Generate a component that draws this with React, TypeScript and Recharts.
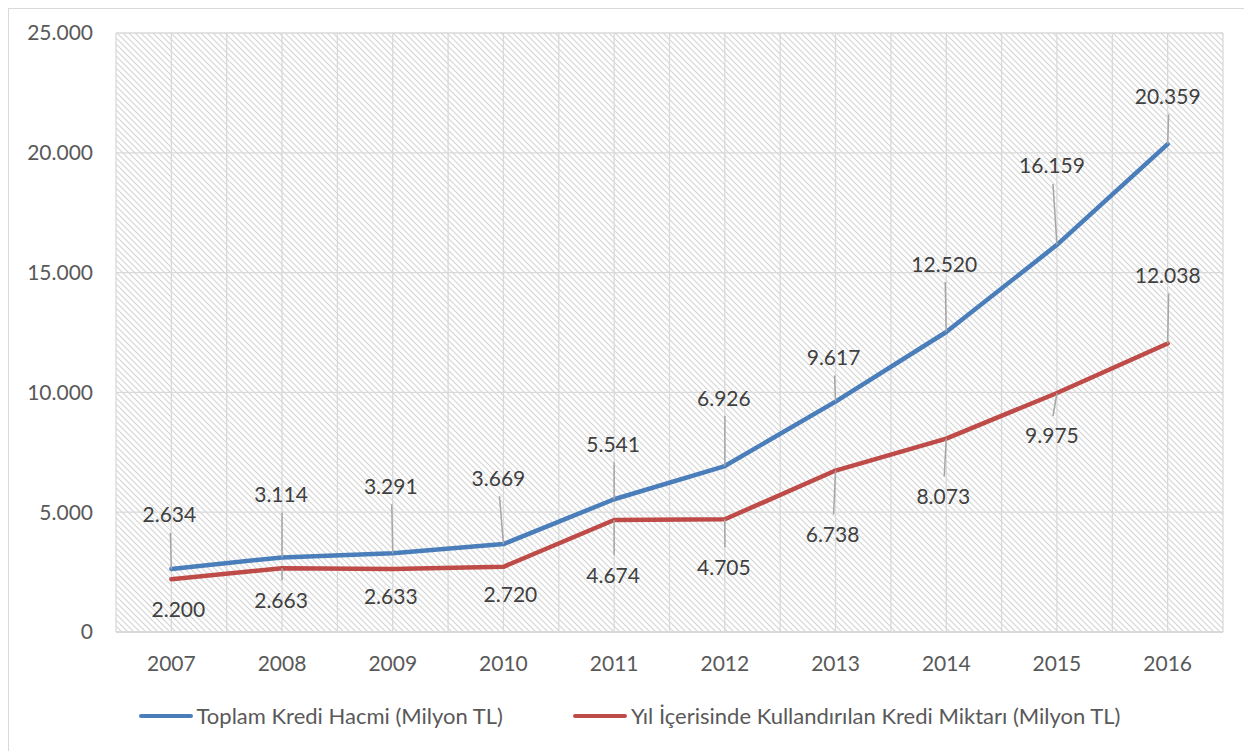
import React from 'react';
import { LineChart, Line, XAxis, YAxis, CartesianGrid, Legend, LabelList } from 'recharts';

const years = ['2007', '2008', '2009', '2010', '2011', '2012', '2013', '2014', '2015', '2016'];
const toplamKredi = [2634, 3114, 3291, 3669, 5541, 6926, 9617, 12520, 16159, 20359];
const kullandirilanKredi = [2200, 2663, 2633, 2720, 4674, 4705, 6738, 8073, 9975, 12038];
const yTicks = [0, 5000, 10000, 15000, 20000, 25000];

const TOPLAM_NAME = 'Toplam Kredi Hacmi (Milyon TL)';
const KULLANDIRILAN_NAME = 'Yıl İçerisinde Kullandırılan Kredi Miktarı (Milyon TL)';

// where each data label sits relative to its point (dx, dy)
const blueLabelOffset = [
  [-2, -54], [-1, -63], [-2, -67], [-5, -66], [-1, -55],
  [-1, -68], [-2, -44], [-2, -68], [-5, -79], [0, -48],
];
const redLabelOffset = [
  [7, 30], [-1, 32], [-2, 28], [7, 28], [-1, 55],
  [-1, 48], [-3, 64], [-3, 58], [-5, 43], [0, -68],
];

const BLUE = '#4a7ebb';
const RED = '#be4b48';
const TEXT = '#595959';
const GRID = '#d9d9d9';
const FONT = 'Lato, "Open Sans", sans-serif';
const FONT_SIZE = 21;

const data = years.map((year, i) => ({
  year,
  toplam: toplamKredi[i],
  kullandirilan: kullandirilanKredi[i],
}));

const fmt = (v: number) => String(v).replace(/\B(?=(\d{3})+(?!\d))/g, '.');

const makeLabel = (offsets: number[][]) => (props: any) => {
  const { x, y, index, value } = props;
  const [dx, dy] = offsets[index];
  const lx = x + dx;
  const ly = y + dy;
  const above = dy < 0;
  const edge = above ? ly + 18 : ly - 20;
  const showLeader = Math.abs(dy) - 19 >= 12;
  return (
    <g>
      {showLeader && (
        <line x1={x} y1={y} x2={lx + 1} y2={edge} stroke="#a6a6a6" strokeWidth={1.5} />
      )}
      <text
        x={lx}
        y={ly + 7.5}
        textAnchor="middle"
        fill="#404040"
        fontFamily={FONT}
        fontSize={FONT_SIZE}
      >
        {fmt(value)}
      </text>
    </g>
  );
};

const renderLegend = () => (
  <div
    style={{
      display: 'flex',
      justifyContent: 'center',
      gap: 70,
      fontFamily: FONT,
      fontSize: 22,
      color: TEXT,
      lineHeight: '26px',
    }}
  >
    {[
      { name: TOPLAM_NAME, color: BLUE },
      { name: KULLANDIRILAN_NAME, color: RED },
    ].map((s) => (
      <div key={s.name} style={{ display: 'flex', alignItems: 'center' }}>
        <span
          style={{
            display: 'inline-block',
            width: 54,
            height: 4,
            borderRadius: 2,
            background: s.color,
            marginRight: 4,
          }}
        />
        {s.name}
      </div>
    ))}
  </div>
);

export default function App() {
  return (
    <div
      style={{
        position: 'relative',
        width: 1241,
        height: 745,
        border: `1px solid ${GRID}`,
        background: '#fff',
      }}
    >
      <svg width={0} height={0} style={{ position: 'absolute' }}>
        <defs>
          <pattern id="hatch" patternUnits="userSpaceOnUse" width={6} height={6}>
            <rect width={6} height={6} fill="#ffffff" />
            <path d="M-1,-1 L7,7 M-1,5 L1,7 M5,-1 L7,1" stroke="#d4d4d4" strokeWidth={1.1} />
          </pattern>
        </defs>
      </svg>
      <LineChart
        width={1241}
        height={742}
        data={data}
        margin={{ top: 24, right: 27, left: 20, bottom: 59 }}
      >
        <CartesianGrid
          fill="url(#hatch)"
          stroke={GRID}
          strokeWidth={1.3}
          verticalCoordinatesGenerator={({ offset }: any) =>
            Array.from({ length: 21 }, (_, i) => offset.left + (i * offset.width) / 20)
          }
        />
        <XAxis
          dataKey="year"
          scale="band"
          height={60}
          tickLine={false}
          tickSize={0}
          tickMargin={24}
          axisLine={{ stroke: GRID, strokeWidth: 2 }}
          tick={{ fill: TEXT, fontFamily: FONT, fontSize: FONT_SIZE }}
        />
        <YAxis
          width={87}
          domain={[0, 25000]}
          ticks={yTicks}
          interval={0}
          tickFormatter={fmt}
          axisLine={false}
          tickLine={false}
          tickSize={0}
          tickMargin={23}
          tick={{ fill: TEXT, fontFamily: FONT, fontSize: FONT_SIZE }}
        />
        <Legend
          verticalAlign="middle"
          align="center"
          content={renderLegend}
          wrapperStyle={{ top: 694, left: 0, width: 1241 }}
        />
        <Line
          dataKey="toplam"
          name={TOPLAM_NAME}
          stroke={BLUE}
          strokeWidth={4.5}
          dot={false}
          strokeLinejoin="round"
          strokeLinecap="round"
          isAnimationActive={false}
        >
          <LabelList dataKey="toplam" content={makeLabel(blueLabelOffset)} />
        </Line>
        <Line
          dataKey="kullandirilan"
          name={KULLANDIRILAN_NAME}
          stroke={RED}
          strokeWidth={4.5}
          dot={false}
          strokeLinejoin="round"
          strokeLinecap="round"
          isAnimationActive={false}
        >
          <LabelList dataKey="kullandirilan" content={makeLabel(redLabelOffset)} />
        </Line>
      </LineChart>
    </div>
  );
}
